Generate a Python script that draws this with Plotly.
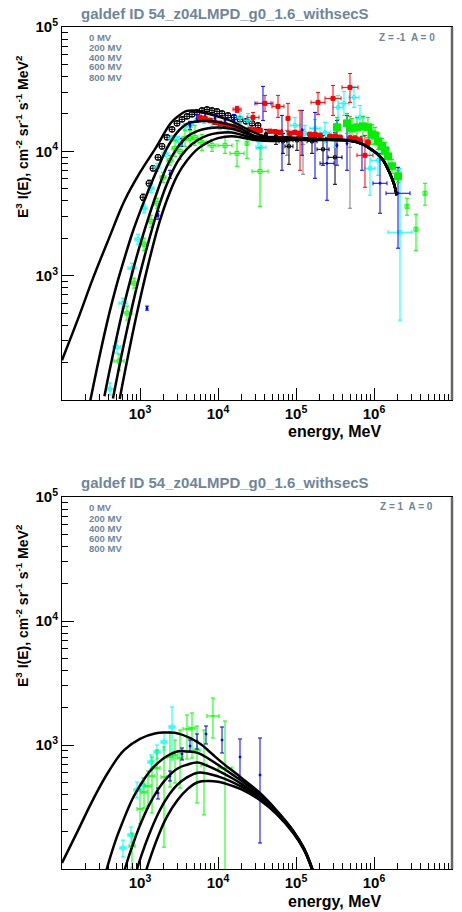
import plotly.graph_objects as go

# ---------------- model curves (E in MeV, F = E^3 I(E)) ----------------
# top panel: Z = -1 (electrons), modulation 0, 200, 400, 600, 800 MV
top_c0_E = [100, 160, 250, 400, 630, 1000, 1600, 2500, 3200, 4000, 5000, 6300, 1e4, 1.6e4, 2.5e4, 4e4, 6.3e4,
            1e5, 2e5, 4.9e5, 7e5, 8.9e5, 1.1e6, 1.31e6, 1.6e6, 1.8e6, 1.95e6]
top_c0_F = [209, 447, 955, 1995, 3981, 6761, 10715, 16982, 19498, 21135, 21280, 20654, 19055, 17179, 14791, 13183, 13032,
            12882, 12589, 12246, 11482, 10520, 9550, 8472, 6622, 5495, 4436]
top_c1_E = [230, 300, 400, 500, 600, 800, 1000, 1300, 1700, 2200, 3000, 4000, 5500, 7500, 1e4, 1.5e4, 2e4, 3e4, 5e4,
            1e5, 2e5, 4.9e5, 7e5, 8.9e5, 1.1e6, 1.31e6, 1.6e6, 1.8e6, 1.95e6]
top_c1_F = [98, 219, 486, 836, 1239, 2213, 3258, 4955, 7362, 10495, 14191, 16596, 17458, 17498, 17179, 16255, 15136, 13213, 12850,
            12755, 12525, 12220, 11482, 10520, 9550, 8472, 6622, 5495, 4436]
top_c2_E = [350, 400, 500, 600, 800, 1000, 1300, 1700, 2200, 3000, 4000, 5500, 7500, 1e4, 1.5e4, 2e4, 3e4, 5e4,
            1e5, 2e5, 4.9e5, 7e5, 8.9e5, 1.1e6, 1.31e6, 1.6e6, 1.8e6, 1.95e6]
top_c2_F = [107, 163, 316, 526, 1069, 1762, 2999, 4932, 7516, 10666, 13092, 14622, 15311, 15524, 15171, 14355, 13183, 12600,
            12630, 12460, 12195, 11482, 10520, 9550, 8472, 6622, 5495, 4436]
top_c3_E = [450, 500, 600, 800, 1000, 1300, 1700, 2200, 3000, 4000, 5500, 7500, 1e4, 1.5e4, 2e4, 3e4, 5e4,
            1e5, 2e5, 4.9e5, 7e5, 8.9e5, 1.1e6, 1.31e6, 1.6e6, 1.8e6, 1.95e6]
top_c3_F = [103, 144, 254, 577, 1033, 1923, 3436, 5420, 8204, 10471, 12331, 13490, 14028, 14191, 13583, 12764, 12359,
            12500, 12400, 12170, 11482, 10520, 9550, 8472, 6622, 5495, 4436]
top_c4_E = [550, 600, 800, 1000, 1300, 1700, 2200, 3000, 4000, 5500, 7500, 1e4, 1.5e4, 2e4, 3e4, 5e4,
            1e5, 2e5, 4.9e5, 7e5, 8.9e5, 1.1e6, 1.31e6, 1.6e6, 1.8e6, 1.95e6]
top_c4_F = [102, 137, 338, 644, 1291, 2460, 4027, 6383, 8433, 10471, 11858, 12764, 13243, 12942, 12331, 12106,
            12380, 12340, 12145, 11482, 10520, 9550, 8472, 6622, 5495, 4436]

# bottom panel: Z = +1 (positrons)
bot_c0_E = [100, 160, 250, 400, 630, 1000, 1600, 2200, 3200, 5900, 8000, 1.17e4, 2e4, 3.5e4, 5.6e4, 9.2e4, 1.26e5, 1.58e5, 1.78e5]
bot_c0_F = [112, 204, 363, 617, 912, 1122, 1245, 1259, 1230, 1023, 869, 708, 543, 407, 299, 204, 148, 105, 83]
bot_c1_E = [350, 400, 500, 600, 800, 1000, 1300, 1700, 2200, 3000, 4000, 5500, 7500, 1e4, 1.5e4, 2e4, 3.5e4, 5.6e4, 9.2e4, 1.26e5, 1.58e5, 1.78e5]
bot_c1_F = [85, 115, 178, 240, 367, 470, 601, 718, 811, 887, 887, 863, 778, 692, 582, 514, 393, 293, 202, 147, 104, 83]
bot_c2_E = [600, 700, 800, 1000, 1300, 1700, 2200, 3000, 4000, 5500, 7500, 1e4, 1.5e4, 2e4, 3.5e4, 5.6e4, 9.2e4, 1.26e5, 1.58e5, 1.78e5]
bot_c2_F = [87, 120, 154, 225, 326, 437, 541, 644, 693, 721, 675, 622, 542, 486, 379, 288, 200, 146, 103, 82]
bot_c3_E = [800, 900, 1000, 1300, 1700, 2200, 3000, 4000, 5500, 7500, 1e4, 1.5e4, 2e4, 3.5e4, 5.6e4, 9.2e4, 1.26e5, 1.58e5, 1.78e5]
bot_c3_F = [74, 96, 119, 188, 278, 372, 476, 548, 598, 587, 558, 505, 461, 368, 283, 198, 145, 103, 82]
bot_c4_E = [1100, 1300, 1700, 2200, 3000, 4000, 5500, 7500, 1e4, 1.5e4, 2e4, 3.5e4, 5.6e4, 9.2e4, 1.26e5, 1.58e5, 1.78e5]
bot_c4_F = [81, 114, 182, 262, 357, 437, 501, 513, 505, 470, 438, 357, 278, 195, 143, 102, 81]

# ---------------- data points: top panel ----------------
top_black_E = [1093, 1305, 1468, 1702, 1915, 2219, 2572, 2981, 3455, 4004, 4641, 5378, 6233, 7224, 8372, 9703,
               11260, 13440, 16040, 19150, 22860, 27280, 32570]
top_black_F = [4270, 5530, 7300, 8950, 10970, 12960, 15020, 16790, 18070, 19110, 19820, 20560, 21340, 21740, 21340, 20960,
               20180, 19460, 18750, 18070, 17420, 16790, 16180]
top_black_relerr = [0.06, 0.06, 0.05, 0.05, 0.05, 0.04, 0.04, 0.04, 0.04, 0.04, 0.04, 0.04, 0.04, 0.04, 0.04, 0.04,
                    0.04, 0.04, 0.04, 0.04, 0.04, 0.04, 0.04]

top_blackhi_E = [41240, 55390, 68100, 81290, 103000, 160400, 221900, 316200]
top_blackhi_F = [13690, 13200, 12030, 10970, 12250, 12030, 10380, 8950]
top_blackhi_Flo = [12250, 11380, 9637, 7870, 10190, 9637, 7730, 5430]
top_blackhi_Fhi = [15020, 14750, 13950, 13200, 14210, 13950, 13440, 14210]
top_blackhi_Elo = [41240, 55390, 60520, 72240, 91470, 138400, 186000, 257200]
top_blackhi_Ehi = [41240, 55390, 76630, 91470, 115900, 186000, 264900, 388800]

top_gray_E = [76630, 123000, 492300]
top_gray_F = [12250, 11380, 10770]
top_gray_Flo = [9290, 6537, 3485]
top_gray_Fhi = [14750, 15020, 19110]

top_red_E = [5876, 6810, 7893, 9147, 10610, 12300, 14260, 16520, 19150, 25720, 29810, 34550, 46410, 53780, 62330,
             83720, 97030, 112600, 151200, 175300, 203200, 272800, 316200, 366500, 492300, 570500, 661200, 837200]
top_red_F = [18750, 18410, 17750, 17100, 16790, 16480, 15880, 15590, 15300, 15020, 14900, 14750, 14480, 14400, 14210,
             13950, 14200, 13950, 13690, 13700, 13440, 13200, 13200, 12960, 12720, 12700, 12250, 11810]
top_red_relerr = [0.04] * 24 + [0.05, 0.05, 0.06, 0.06]

top_redbig_E = [17530, 28100, 40040, 58760, 78930, 112600, 191500, 298100, 492300, 766300]
top_redbig_F = [21740, 18750, 24300, 22990, 18410, 13440, 24750, 26660, 32680, 9290]
top_redbig_Flo = [20560, 16790, 20960, 18750, 14480, 7040, 19820, 19460, 24750, 5140]
top_redbig_Fhi = [22990, 20560, 28180, 28180, 24300, 21340, 29780, 33890, 42300, 13440]
top_redbig_Elo = [15580, 23540, 31620, 49230, 78930, 112600, 155800, 235400, 388800, 605200]
top_redbig_Ehi = [19730, 33540, 50700, 70140, 78930, 112600, 235400, 377400, 623300, 970300]

top_cyan_E = [412, 507, 605, 789, 943, 1126, 1384, 1652, 2093, 2572, 3070, 3774, 4506, 5539, 6612, 8372, 10610,
              13440, 19150, 24240, 32570, 35580, 97030, 130500, 175300, 235400, 316200, 345500, 412400, 553900,
              661200, 888100, 1126000, 2154000]
top_cyan_F = [122.6, 266.6, 601, 1149, 1965, 3485, 5045, 7437, 9637, 12720, 12480, 15880, 16480, 18070, 17750, 17100,
              16180, 15300, 18750, 17750, 12250, 10770, 16180, 13950, 15300, 14210, 13440, 22560, 24300, 27150,
              18750, 7302, 8470, 2236]
top_cyan_Flo = [109.7, 238.5, 548, 1047, 1791, 3236, 4686, 6908, 9117, 12030, 11810, 15020, 15590, 17100, 16790, 15880,
                15020, 13950, 16790, 15590, 10570, 8620, 13950, 12030, 12960, 11810, 10770, 18070, 19460, 22560,
                15020, 4440, 6420, 439]
top_cyan_Fhi = [137, 297.8, 659, 1260, 2154, 3752, 5430, 8008, 10190, 13440, 13200, 16790, 17420, 19110, 18750, 18410,
                17420, 16790, 20960, 20180, 14210, 13440, 18750, 16180, 18070, 17100, 16790, 28180, 30350, 33290,
                23420, 12720, 11170, 7302]
top_cyan_Elo = [367, 451, 538, 701, 863, 1030, 1267, 1512, 1915, 2354, 2810, 3455, 4124, 5070, 6052, 7663, 9703,
                12300, 17530, 21540, 28100, 30700, 83720, 112600, 151200, 203200, 272800, 298100, 355800, 478000,
                587600, 766300, 915400, 1512000]
top_cyan_Ehi = [464, 570, 681, 889, 1030, 1230, 1512, 1805, 2286, 2810, 3354, 4124, 4923, 6052, 7224, 9147, 11590,
                14680, 20930, 27280, 37740, 41240, 112600, 151200, 203200, 272800, 366500, 400400, 478000, 642000,
                744000, 1030000, 1384000, 3070000]

top_blue_E = [1230, 1702, 2424, 3455, 4375, 5378, 6810, 9147, 12300, 16040, 37740, 66120, 119400, 175300, 249700,
              335400, 450600, 701400, 1194000, 2032000]
top_blue_F = [548, 3062, 6537, 11810, 16180, 18410, 19110, 18410, 17750, 18070, 24300, 14480, 14750, 12960, 8008,
              11170, 11600, 11600, 5534, 4599]
top_blue_Flo = [528, 2843, 6069, 10970, 15020, 17100, 17750, 17100, 16180, 16480, 17730, 7040, 9290, 6069, 4040,
                7730, 7040, 7040, 3177, 1663]
top_blue_Fhi = [569, 3296, 7040, 12720, 17420, 19820, 20560, 19820, 19460, 19820, 33290, 19460, 21340, 20560, 12960,
                17730, 19460, 13200, 9637, 7437]
top_blue_Elo = [1230, 1702, 2424, 3455, 4375, 5378, 6810, 9147, 12300, 16040, 29810, 66120, 119400, 175300, 203200,
                335400, 450600, 701400, 970300, 1426000]
top_blue_Ehi = [1230, 1702, 2424, 3455, 4375, 5378, 6810, 9147, 12300, 16040, 47800, 66120, 119400, 175300, 307000,
                335400, 450600, 701400, 1468000, 2894000]

top_green_E = [538, 681, 838, 1126, 1384, 1652, 1973, 2424, 2810, 3257, 3774, 4375, 5070, 6233, 8372, 12300, 17530,
               23540, 34550, 2649000, 3455000, 4506000]
top_green_F = [206, 500, 871, 1791, 2741, 3822, 6183, 8470, 10570, 10000, 12720, 12720, 12960, 11810, 11170, 11170,
               9637, 11600, 6908, 3614, 2363, 4599]
top_green_Flo = [174, 439, 794, 1600, 2453, 3485, 5636, 7730, 9117, 8620, 10970, 10970, 11170, 10190, 10000, 9637,
                 7580, 8790, 3614, 3062, 1600, 3684]
top_green_Fhi = [234, 569, 955, 2001, 3062, 4194, 6783, 9290, 12250, 11600, 14750, 14750, 16180, 13690, 12480, 12960,
                 12250, 15300, 10770, 4194, 3120, 5534]
top_green_Elo = [464, 588, 767, 1030, 1267, 1512, 1805, 2219, 2572, 2981, 3455, 4004, 4641, 5539, 7440, 10000, 14260,
                 23540, 27280, 2649000, 3455000, 4506000]
top_green_Ehi = [624, 789, 915, 1230, 1512, 1805, 2154, 2649, 3070, 3558, 4124, 4780, 5539, 7014, 9421, 15120, 21540,
                 23540, 43750, 2649000, 3455000, 4506000]

top_greenbig_E = [335400, 450600, 522200, 605200, 722400, 837200, 942100, 1030000, 1126000, 1267000, 1384000, 1512000,
                  1702000, 2032000]
top_greenbig_F = [15590, 16790, 15300, 15590, 15880, 15590, 13690, 13440, 12030, 10970, 10190, 9117, 7580, 6298]
top_greenbig_Flo = [12960, 13950, 12720, 12960, 13200, 12960, 11380, 11600, 10380, 9460, 8790, 7870, 6659, 5636]
top_greenbig_Fhi = [18750, 20180, 18410, 18750, 19110, 18750, 16480, 15590, 13950, 12720, 11810, 10570, 8620, 7040]

# ---------------- data points: bottom panel ----------------
bot_cyan_E = [605, 767, 915, 1093, 1384, 1652, 2032, 2572]
bot_cyan_F = [147.7, 188, 434, 476, 729, 878, 1057, 1397]
bot_cyan_Flo = [125, 162, 374, 410, 641, 771, 912, 757]
bot_cyan_Fhi = [171, 218, 503, 542, 831, 1000, 1273, 2025]
bot_cyan_Elo = [554, 701, 838, 1000, 1267, 1512, 1860, 2354]
bot_cyan_Ehi = [662, 838, 1000, 1194, 1512, 1805, 2219, 2810]

bot_green_E = [789, 1000, 1126, 1267, 1426, 1652, 2032, 2424, 2810, 3257, 4004, 4641, 5378, 6612, 8623, 12300]
bot_green_F = [153, 305, 418, 467, 562, 652, 552, 800, 831, 786, 1346, 1371, 912, 690, 1713, 652]
bot_green_Flo = [102, 231, 310, 322, 283, 410, 150, 458, 494, 450, 771, 786, 341, 273, 1139, 95]
bot_green_Fhi = [195, 442, 542, 617, 800, 912, 964, 1273, 1097, 1321, 1746, 1812, 1423, 1321, 2393, 1561]
bot_green_Elo = [723, 915, 1030, 1159, 1305, 1512, 1860, 2219, 2572, 2981, 3558, 4247, 4923, 6052, 7224, 10000]
bot_green_Ehi = [863, 1093, 1230, 1384, 1558, 1805, 2219, 2649, 3070, 3558, 4506, 5070, 5876, 7224, 10300, 15120]

bot_blue_E = [1702, 2424, 3455, 4375, 5378, 7014, 11260, 19150, 34550]
bot_blue_F = [410, 562, 846, 982, 1077, 1227, 1097, 800, 573]
bot_blue_Flo = [367, 513, 757, 878, 929, 1019, 862, 542, 162]
bot_blue_Fhi = [450, 617, 946, 1097, 1227, 1423, 1397, 1118, 1139]

# ---------------- text ----------------
title_text = "galdef ID 54_z04LMPD_g0_1.6_withsecS"
mod_labels = ["0 MV", "200 MV", "400 MV", "600 MV", "800 MV"]
charge_top = "Z = -1&nbsp;&nbsp;A = 0"
charge_bot = "Z = 1&nbsp;&nbsp;A = 0"
x_tick_vals = [1e2, 1e3, 1e4, 1e5, 1e6, 1e7]
x_tick_text = ["", "10<sup>3</sup>", "10<sup>4</sup>", "10<sup>5</sup>", "10<sup>6</sup>", "10<sup>7</sup>"]
y_tick_vals = [1e2, 1e3, 1e4, 1e5]
y_tick_text = ["", "10<sup>3</sup>", "10<sup>4</sup>", "10<sup>5</sup>"]

# ---------------- figure ----------------
W, H = 462, 912
FONT = "Liberation Sans, Arial, sans-serif"
SLATE = "#6f8699"
fig = go.Figure()


def add_pts(xa, ya, E, F, Flo, Fhi, color, symbol, size, Elo=None, Ehi=None, mlw=1):
    ey = dict(type="data", symmetric=False,
              array=[h - f for f, h in zip(F, Fhi)],
              arrayminus=[f - l for f, l in zip(F, Flo)],
              color=color, thickness=1, width=2)
    ex = None
    if Elo is not None:
        ex = dict(type="data", symmetric=False,
                  array=[h - e for e, h in zip(E, Ehi)],
                  arrayminus=[e - l for e, l in zip(E, Elo)],
                  color=color, thickness=1, width=2)
    fig.add_trace(go.Scatter(x=E, y=F, mode="markers", xaxis=xa, yaxis=ya,
                             marker=dict(symbol=symbol, size=size, color=color,
                                         line=dict(color=color, width=mlw)),
                             error_y=ey, error_x=ex, showlegend=False, hoverinfo="skip"))


def rel_bounds(F, rel):
    return [f / (1 + r) for f, r in zip(F, rel)], [f * (1 + r) for f, r in zip(F, rel)]


# top panel data
lo, hi = rel_bounds(top_black_F, top_black_relerr)
elo, ehi = rel_bounds(top_black_E, [0.08] * len(top_black_E))
add_pts("x", "y", top_black_E, top_black_F, lo, hi, "black", "circle-open", 6, elo, ehi)
add_pts("x", "y", top_gray_E, top_gray_F, top_gray_Flo, top_gray_Fhi, "#7f7f7f", "line-ew", 3)
add_pts("x", "y", top_blackhi_E, top_blackhi_F, top_blackhi_Flo, top_blackhi_Fhi, "black", "square-open", 3,
        top_blackhi_Elo, top_blackhi_Ehi)
add_pts("x", "y", top_cyan_E, top_cyan_F, top_cyan_Flo, top_cyan_Fhi, "#00ffff", "circle-open", 4,
        top_cyan_Elo, top_cyan_Ehi)
add_pts("x", "y", top_blue_E, top_blue_F, top_blue_Flo, top_blue_Fhi, "#0000ff", "circle", 2,
        top_blue_Elo, top_blue_Ehi)
add_pts("x", "y", top_green_E, top_green_F, top_green_Flo, top_green_Fhi, "#00ff00", "square-open", 4,
        top_green_Elo, top_green_Ehi)
add_pts("x", "y", top_greenbig_E, top_greenbig_F, top_greenbig_Flo, top_greenbig_Fhi, "#00ee00", "square", 7)
lo, hi = rel_bounds(top_red_F, top_red_relerr)
elo, ehi = rel_bounds(top_red_E, [0.07] * len(top_red_E))
add_pts("x", "y", top_red_E, top_red_F, lo, hi, "#ff0000", "square", 4, elo, ehi)
add_pts("x", "y", top_redbig_E, top_redbig_F, top_redbig_Flo, top_redbig_Fhi, "#ff0000", "square", 4,
        top_redbig_Elo, top_redbig_Ehi)

# bottom panel data
add_pts("x2", "y2", bot_cyan_E, bot_cyan_F, bot_cyan_Flo, bot_cyan_Fhi, "#00ffff", "circle-open", 4,
        bot_cyan_Elo, bot_cyan_Ehi)
add_pts("x2", "y2", bot_green_E, bot_green_F, bot_green_Flo, bot_green_Fhi, "#00ff00", "line-ew", 3,
        bot_green_Elo, bot_green_Ehi)
add_pts("x2", "y2", bot_blue_E, bot_blue_F, bot_blue_Flo, bot_blue_Fhi, "#0000ff", "circle", 2)

# model curves
for E, F in [(top_c0_E, top_c0_F), (top_c1_E, top_c1_F), (top_c2_E, top_c2_F), (top_c3_E, top_c3_F),
             (top_c4_E, top_c4_F)]:
    fig.add_trace(go.Scatter(x=E, y=F, mode="lines", xaxis="x", yaxis="y",
                             line=dict(color="black", width=2.5, shape="spline", smoothing=1.0),
                             showlegend=False, hoverinfo="skip"))
for E, F in [(bot_c0_E, bot_c0_F), (bot_c1_E, bot_c1_F), (bot_c2_E, bot_c2_F), (bot_c3_E, bot_c3_F),
             (bot_c4_E, bot_c4_F)]:
    fig.add_trace(go.Scatter(x=E, y=F, mode="lines", xaxis="x2", yaxis="y2",
                             line=dict(color="black", width=2.5, shape="spline", smoothing=1.2),
                             showlegend=False, hoverinfo="skip"))

x_minor = [k * 10 ** d for d in range(2, 7) for k in range(2, 10)]
y_minor = [k * 10 ** d for d in range(2, 5) for k in range(2, 10)]

XD = [62 / W, 452 / W]
axis_common = dict(type="log", showgrid=False, zeroline=False, showline=True, linecolor="black", linewidth=1,
                   mirror=True, ticks="inside", ticklen=12, tickwidth=1, tickcolor="black", automargin=False,
                   tickfont=dict(family=FONT, size=15, color="black"), tickmode="array")


def xaxis(anchor):
    d = dict(axis_common)
    d.update(domain=XD, anchor=anchor, range=[2, 7], tickvals=x_tick_vals,
             ticktext=["<b>%s</b>" % t if t else "" for t in x_tick_text],
             minor=dict(tickmode="array", tickvals=x_minor, ticks="inside", ticklen=6, tickwidth=1,
                        tickcolor="black", showgrid=False))
    return d


def yaxis(anchor, dom):
    d = dict(axis_common)
    d.update(domain=dom, anchor=anchor, range=[2, 5], tickvals=y_tick_vals,
             ticktext=["<b>%s</b>" % t if t else "" for t in y_tick_text],
             minor=dict(tickmode="array", tickvals=y_minor, ticks="inside", ticklen=6, tickwidth=1,
                        tickcolor="black", showgrid=False))
    return d


fig.update_layout(
    width=W, height=H, margin=dict(l=0, r=0, t=0, b=0, pad=0, autoexpand=False),
    paper_bgcolor="white", plot_bgcolor="white", showlegend=False, hovermode=False,
    xaxis=xaxis("y"), yaxis=yaxis("x", [1 - 400 / H, 1 - 27 / H]),
    xaxis2=xaxis("y2"), yaxis2=yaxis("x2", [1 - 869 / H, 1 - 497 / H]),
)

# right frame edge (grey, thicker)
for xr, yr in [("x", "y"), ("x2", "y2")]:
    fig.add_shape(type="line", xref=xr + " domain", yref=yr + " domain", x0=1, x1=1, y0=0, y1=1,
                  line=dict(color="#666666", width=2.5))

ann = []


def txt(s, x, y, size, color="black", xanchor="left", yanchor="middle", angle=0):
    ann.append(dict(text=s, x=x / W, y=1 - y / H, xref="paper", yref="paper", showarrow=False,
                    xanchor=xanchor, yanchor=yanchor, textangle=angle,
                    font=dict(family=FONT, size=size, color=color)))


for off in [0, 469]:
    txt("<b>%s</b>" % title_text, 225, 14 + off, 15, SLATE, "center")
    txt("<b>E<sup>3</sup> I(E), cm<sup>-2</sup> sr<sup>-1</sup> s<sup>-1</sup> MeV<sup>2</sup></b>",
        22, 137 + off, 14, "black", "center", "middle", -90)
    txt("<b>energy, MeV</b>", 383, 432 + off, 16, "black", "right")

top_label_y = [37, 47, 57, 67, 78]
bot_label_y = [507, 518, 528, 538, 548]
for lab, yt, yb in zip(mod_labels, top_label_y, bot_label_y):
    txt("<b>%s</b>" % lab, 87, yt, 9.5, SLATE)
    txt("<b>%s</b>" % lab, 87, yb, 9.5, SLATE)
txt("<b>%s</b>" % charge_top, 437, 38, 10, SLATE, "right")
txt("<b>%s</b>" % charge_bot, 435, 506, 10, SLATE, "right")

fig.update_layout(annotations=ann)
fig.write_html("out.html", config={"displayModeBar": False, "staticPlot": True},
               post_script="document.body.style.margin='0px';")
